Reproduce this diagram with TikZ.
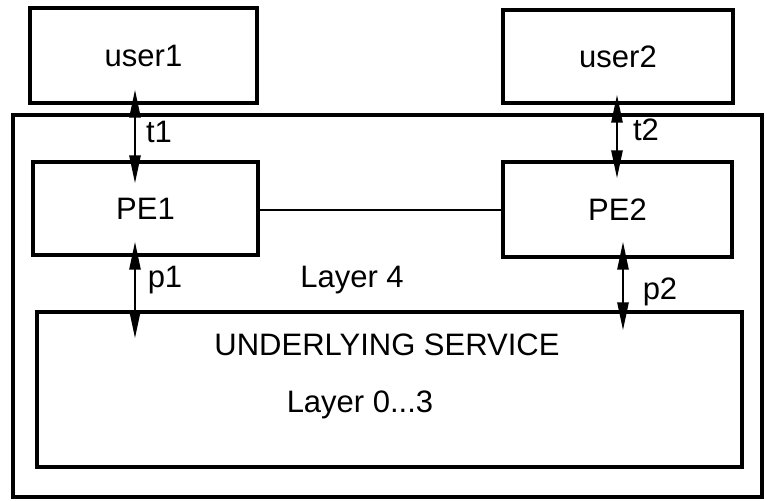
\documentclass[tikz,border=0pt]{standalone}
\usepackage{fontspec}
\setmainfont{Liberation Sans}
\usetikzlibrary{arrows.meta,positioning,calc}

\begin{document}
\begin{tikzpicture}[
    x=0.5pt, y=-0.5pt,
    font=\fontsize{15.5}{18}\selectfont,
    box/.style={draw, line width=1.6pt, inner sep=0pt, anchor=center},
    lbl/.style={inner sep=0pt, anchor=center},
    biarr/.style={{Triangle[length=14pt,width=5.5pt]}-{Triangle[length=14pt,width=5.5pt]}, line width=1.3pt}
  ]
    \useasboundingbox (0,0) rectangle (767,500);

    % outer frame (layer 4)
    \node[box, minimum width=749*0.5pt, minimum height=382*0.5pt] (layer) at (387.5,306) {};

    \node[box, minimum width=227*0.5pt, minimum height=95*0.5pt] (user1) at (143.5,55.5) {user1};
    \node[box, minimum width=230*0.5pt, minimum height=93*0.5pt] (user2) at (618,56.5) {user2};
    \node[box, fill=white, minimum width=225*0.5pt, minimum height=93*0.5pt] (pe1) at (145.5,208.5) {PE1};
    \node[box, fill=white, minimum width=229*0.5pt, minimum height=95*0.5pt] (pe2) at (617.5,209.5) {PE2};
    \node[box, minimum width=705*0.5pt, minimum height=155*0.5pt] (service) at (389.5,389.5) {};

    \node[lbl] (servtext) at (387,345) {UNDERLYING SERVICE};
    \node[lbl] (low) at (360,405) {Layer 0...3};
    \node[lbl] (l4) at (352,280) {Layer 4};
    \node[lbl] (t1) at (159,132) {t1};
    \node[lbl] (t2) at (646,130) {t2};
    \node[lbl] (p1) at (165,280) {p1};
    \node[lbl] (p2) at (660,292) {p2};

    \draw[line width=1.1pt] (pe1.east |- 0,210) -- (pe2.west |- 0,210);

    \draw[biarr] ([shift={(-8.5,-15)}]user1.south) -- ([shift={(-10.5,23)}]pe1.north);
    \draw[biarr] ([shift={(-1,-10)}]user2.south) -- ([shift={(-0.5,18)}]pe2.north);
    \draw[biarr] ([shift={(-10.5,-15)}]pe1.south) -- ([shift={(-254.5,28)}]service.north);
    \draw[biarr] ([shift={(5.5,-17)}]pe2.south) -- ([shift={(233.5,20)}]service.north);
  \end{tikzpicture}
\end{document}
